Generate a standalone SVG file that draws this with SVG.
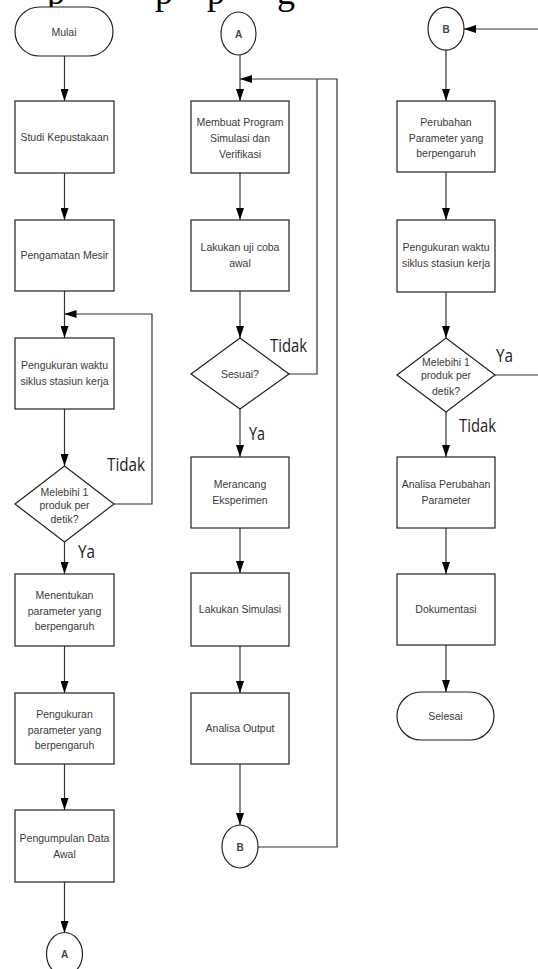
<svg xmlns="http://www.w3.org/2000/svg" width="538" height="969" viewBox="0 0 538 969">
<style>
  .box{fill:#fff;stroke:#222;stroke-width:1.2}
  .t{font-family:"Liberation Sans",Arial,sans-serif;font-size:10.5px;fill:#3a3a3a;text-anchor:middle}
  .c{font-family:"Liberation Sans",Arial,sans-serif;font-size:10px;font-weight:bold;fill:#444;text-anchor:middle}
  .lbl{font-family:"Open Sans","DejaVu Sans",sans-serif;font-size:19px;fill:#222}
  .ln{fill:none;stroke:#333;stroke-width:1.2}
  .top{font-family:"Liberation Serif","Times New Roman",serif;font-size:36px;fill:#000}
</style>
<defs>
  <marker id="ah" markerUnits="userSpaceOnUse" markerWidth="12" markerHeight="8" refX="12" refY="4" orient="auto">
    <path d="M0,0 L12,4 L0,8 Z" fill="#000"/>
  </marker>
</defs>
<rect width="538" height="969" fill="#fff"/>
<g id="page-text">
  <text class="top" x="47" y="4">p</text>
  <text class="top" x="155" y="4">p</text>
  <text class="top" x="207" y="4">p</text>
  <text class="top" x="277" y="4">g</text>
</g>
<g id="connectors">
  <path class="ln" d="M64.5,56 V101" marker-end="url(#ah)"/>
  <path class="ln" d="M64.5,173 V220" marker-end="url(#ah)"/>
  <path class="ln" d="M64.5,291 V338" marker-end="url(#ah)"/>
  <path class="ln" d="M64.5,409 V466" marker-end="url(#ah)"/>
  <path class="ln" d="M64.5,542 V574" marker-end="url(#ah)"/>
  <path class="ln" d="M64.5,646 V693" marker-end="url(#ah)"/>
  <path class="ln" d="M64.5,764 V810" marker-end="url(#ah)"/>
  <path class="ln" d="M64.5,882 V933" marker-end="url(#ah)"/>
  <path class="ln" d="M114,504 H152 V314 H64.5" marker-end="url(#ah)"/>
  <path class="ln" d="M240,55 V101" marker-end="url(#ah)"/>
  <path class="ln" d="M240,173 V220" marker-end="url(#ah)"/>
  <path class="ln" d="M240,291 V338" marker-end="url(#ah)"/>
  <path class="ln" d="M240,409 V457" marker-end="url(#ah)"/>
  <path class="ln" d="M240,528 V573" marker-end="url(#ah)"/>
  <path class="ln" d="M240,646 V693" marker-end="url(#ah)"/>
  <path class="ln" d="M240,764 V825" marker-end="url(#ah)"/>
  <path class="ln" d="M289,374 H317 V79"/>
  <path class="ln" d="M258,847 H337 V79 H240" marker-end="url(#ah)"/>
  <path class="ln" d="M538,29 H464" marker-end="url(#ah)"/>
  <path class="ln" d="M446,50 V101" marker-end="url(#ah)"/>
  <path class="ln" d="M446,172 V220" marker-end="url(#ah)"/>
  <path class="ln" d="M446,292 V338" marker-end="url(#ah)"/>
  <path class="ln" d="M446,412 V457" marker-end="url(#ah)"/>
  <path class="ln" d="M446,528 V574" marker-end="url(#ah)"/>
  <path class="ln" d="M446,645 V692" marker-end="url(#ah)"/>
  <path class="ln" d="M495,375 H538"/>
</g>
<g id="labels">
  <text class="lbl" x="107" y="471" textLength="38" lengthAdjust="spacingAndGlyphs">Tidak</text>
  <text class="lbl" x="78" y="558" textLength="17" lengthAdjust="spacingAndGlyphs">Ya</text>
  <text class="lbl" x="270" y="352" textLength="37" lengthAdjust="spacingAndGlyphs">Tidak</text>
  <text class="lbl" x="249" y="440" textLength="16" lengthAdjust="spacingAndGlyphs">Ya</text>
  <text class="lbl" x="496" y="362" textLength="17" lengthAdjust="spacingAndGlyphs">Ya</text>
  <text class="lbl" x="459" y="432" textLength="37" lengthAdjust="spacingAndGlyphs">Tidak</text>
</g>
<g id="mulai"><rect class="box" x="15" y="7" width="98" height="49" rx="24.5"/><text class="t" x="64" y="35.5">Mulai</text></g>
<g id="studi"><rect class="box" x="15" y="101" width="99" height="72"/><text class="t" x="64.5" y="141">Studi Kepustakaan</text></g>
<g id="pengamatan"><rect class="box" x="15" y="220" width="99" height="71"/><text class="t" x="64.5" y="259">Pengamatan Mesir</text></g>
<g id="ukur1"><rect class="box" x="15" y="338" width="99" height="71"/><text class="t" x="64.5" y="369">Pengukuran waktu</text><text class="t" x="64.5" y="385">siklus stasiun kerja</text></g>
<g id="cek1"><path class="box" d="M64.5,466 L114,504 L64.5,542 L15,504 Z"/><text class="t" x="64.5" y="496">Melebihi 1</text><text class="t" x="64.5" y="509">produk per</text><text class="t" x="64.5" y="523">detik?</text></g>
<g id="menentukan"><rect class="box" x="15" y="574" width="99" height="72"/><text class="t" x="64.5" y="599">Menentukan</text><text class="t" x="64.5" y="615">parameter yang</text><text class="t" x="64.5" y="630">berpengaruh</text></g>
<g id="ukurparam"><rect class="box" x="15" y="693" width="99" height="71"/><text class="t" x="64.5" y="718">Pengukuran</text><text class="t" x="64.5" y="734">parameter yang</text><text class="t" x="64.5" y="749">berpengaruh</text></g>
<g id="kumpul"><rect class="box" x="15" y="810" width="99" height="72"/><text class="t" x="64.5" y="842">Pengumpulan Data</text><text class="t" x="64.5" y="858">Awal</text></g>
<g id="a1"><ellipse class="box" cx="64.5" cy="954" rx="18" ry="21.5"/><text class="c" x="64.5" y="958">A</text></g>
<g id="a2"><ellipse class="box" cx="238.5" cy="33.5" rx="17.5" ry="21.5"/><text class="c" x="238.5" y="37.5">A</text></g>
<g id="membuat"><rect class="box" x="191" y="101" width="98" height="72"/><text class="t" x="240" y="126">Membuat Program</text><text class="t" x="240" y="142">Simulasi dan</text><text class="t" x="240" y="158">Verifikasi</text></g>
<g id="ujicoba"><rect class="box" x="191" y="220" width="98" height="71"/><text class="t" x="240" y="251">Lakukan uji coba</text><text class="t" x="240" y="267">awal</text></g>
<g id="sesuai"><path class="box" d="M240,338 L289,374 L240,409 L191,374 Z"/><text class="t" x="240" y="377.5">Sesuai?</text></g>
<g id="merancang"><rect class="box" x="191" y="457" width="98" height="71"/><text class="t" x="240" y="488">Merancang</text><text class="t" x="240" y="504">Eksperimen</text></g>
<g id="simulasi"><rect class="box" x="191" y="573" width="98" height="73"/><text class="t" x="240" y="613">Lakukan Simulasi</text></g>
<g id="output"><rect class="box" x="191" y="693" width="98" height="71"/><text class="t" x="240" y="732">Analisa Output</text></g>
<g id="b1"><ellipse class="box" cx="240" cy="846.5" rx="18" ry="21.5"/><text class="c" x="240" y="850.5">B</text></g>
<g id="b2"><ellipse class="box" cx="446" cy="28.7" rx="18" ry="21.5"/><text class="c" x="446" y="32.7">B</text></g>
<g id="perubahan"><rect class="box" x="397" y="101" width="98" height="71"/><text class="t" x="446" y="126">Perubahan</text><text class="t" x="446" y="142">Parameter yang</text><text class="t" x="446" y="157">berpengaruh</text></g>
<g id="ukur2"><rect class="box" x="397" y="220" width="98" height="72"/><text class="t" x="446" y="251">Pengukuran waktu</text><text class="t" x="446" y="267">siklus stasiun kerja</text></g>
<g id="cek2"><path class="box" d="M446,338 L495,375 L446,412 L397,375 Z"/><text class="t" x="446" y="366">Melebihi 1</text><text class="t" x="446" y="379">produk per</text><text class="t" x="446" y="395">detik?</text></g>
<g id="analisa"><rect class="box" x="397" y="457" width="98" height="71"/><text class="t" x="446" y="488">Analisa Perubahan</text><text class="t" x="446" y="504">Parameter</text></g>
<g id="dokumentasi"><rect class="box" x="397" y="574" width="98" height="71"/><text class="t" x="446" y="613">Dokumentasi</text></g>
<g id="selesai"><rect class="box" x="397" y="692" width="97" height="48" rx="24"/><text class="t" x="445.5" y="720">Selesai</text></g>
</svg>
